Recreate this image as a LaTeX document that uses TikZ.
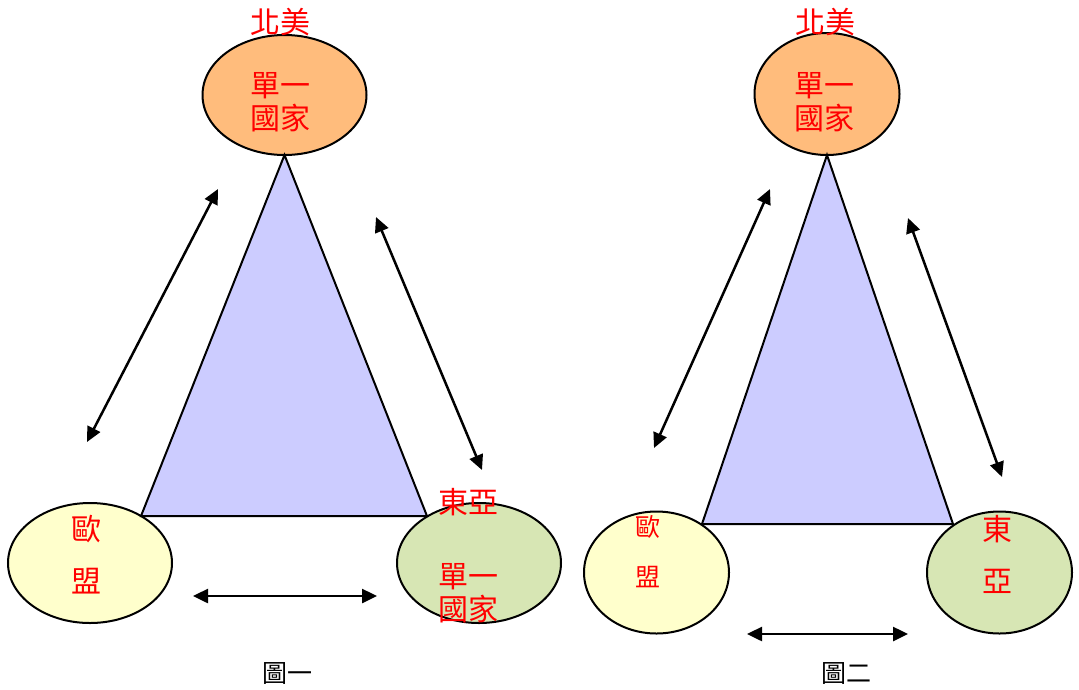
\documentclass[tikz,border=0pt]{standalone}
\usepackage{fontspec}
\newfontfamily\cjk{Noto Sans CJK TC}
\usetikzlibrary{shapes.geometric,arrows.meta}
\definecolor{orangefill}{HTML}{FFBC7C}
\definecolor{trifill}{HTML}{CCCCFF}
\definecolor{yellowfill}{HTML}{FFFFCC}
\definecolor{greenfill}{HTML}{D7E6B4}
\definecolor{lblred}{HTML}{FF0000}
\begin{document}
\begin{tikzpicture}[x=1pt,y=-1pt,
  blob/.style={ellipse, draw=black, line width=2pt, inner sep=0pt, outer sep=0pt},
  bigblob/.style={blob, minimum width=164pt, minimum height=120pt},
  smallblob/.style={blob, minimum width=145pt, minimum height=122pt},
  tri/.style={fill=trifill, draw=black, line width=2pt, line join=miter},
  lbl/.style={text=lblred, inner sep=0pt, align=center, font=\cjk\fontsize{30}{33}\selectfont},
  lblsmall/.style={lbl, font=\cjk\fontsize{25}{28}\selectfont},
  captext/.style={text=black, inner sep=0pt, font=\cjk\fontsize{25}{28}\selectfont},
  dbl/.style={line width=2.5pt, {Triangle[length=15pt,width=14pt]}-{Triangle[length=15pt,width=14pt]}}
]
\useasboundingbox (0,0) rectangle (1079,689);
\fill[white] (0,0) rectangle (1079,689);

% ---------- Figure 1 ----------
\node[bigblob, fill=orangefill] (na) at (284.5,95) {};
\node[bigblob, fill=yellowfill] (eu) at (90,563) {};
\node[bigblob, fill=greenfill] (ea) at (479,563) {};
\coordinate (ta) at (na.south);
\coordinate (tl) at (141,516);
\coordinate (tr) at (427,516);
\draw[tri] (ta) -- (tl) -- (tr) -- cycle;

\coordinate (a1s) at (218,189);
\coordinate (a1e) at (87,442);
\coordinate (a2s) at (376,217);
\coordinate (a2e) at (482,470);
\coordinate (a3s) at (193,596);
\coordinate (a3e) at (377,596);
\draw[dbl] (a1s) -- (a1e);
\draw[dbl] (a2s) -- (a2e);
\draw[dbl] (a3s) -- (a3e);

\node[lbl] (natitle) at (280,22) {北美};
\node[lbl] (natext) at (280,102) {單一\\國家};
\node[lbl] (eu1) at (86,529) {歐};
\node[lbl] (eu2) at (86,581) {盟};
\node[lbl] (eatitle) at (468,502) {東亞};
\node[lbl] (eatext) at (468,593) {單一\\國家};
\node[captext] (cap1) at (287,673) {圖一};

% ---------- Figure 2 ----------
\node[smallblob, fill=orangefill] (nb) at (827,94) {};
\node[smallblob, fill=yellowfill] (eub) at (656.5,572.5) {};
\node[smallblob, fill=greenfill] (eab) at (999.5,572.5) {};
\coordinate (sa) at (nb.south);
\coordinate (sl) at (702,524);
\coordinate (sr) at (953,524);
\draw[tri] (sa) -- (sl) -- (sr) -- cycle;

\coordinate (b1s) at (770,189);
\coordinate (b1e) at (654,448);
\coordinate (b2s) at (908,218);
\coordinate (b2e) at (1002,477);
\coordinate (b3s) at (747,634);
\coordinate (b3e) at (908,634);
\draw[dbl] (b1s) -- (b1e);
\draw[dbl] (b2s) -- (b2e);
\draw[dbl] (b3s) -- (b3e);

\node[lbl] (nbtitle) at (825,22) {北美};
\node[lbl] (nbtext) at (824,102) {單一\\國家};
\node[lblsmall] (eub1) at (648,527) {歐};
\node[lblsmall] (eub2) at (648,577) {盟};
\node[lbl] (eab1) at (997,529) {東};
\node[lbl] (eab2) at (997,581) {亞};
\node[captext] (cap2) at (846,673) {圖二};
\end{tikzpicture}
\end{document}
